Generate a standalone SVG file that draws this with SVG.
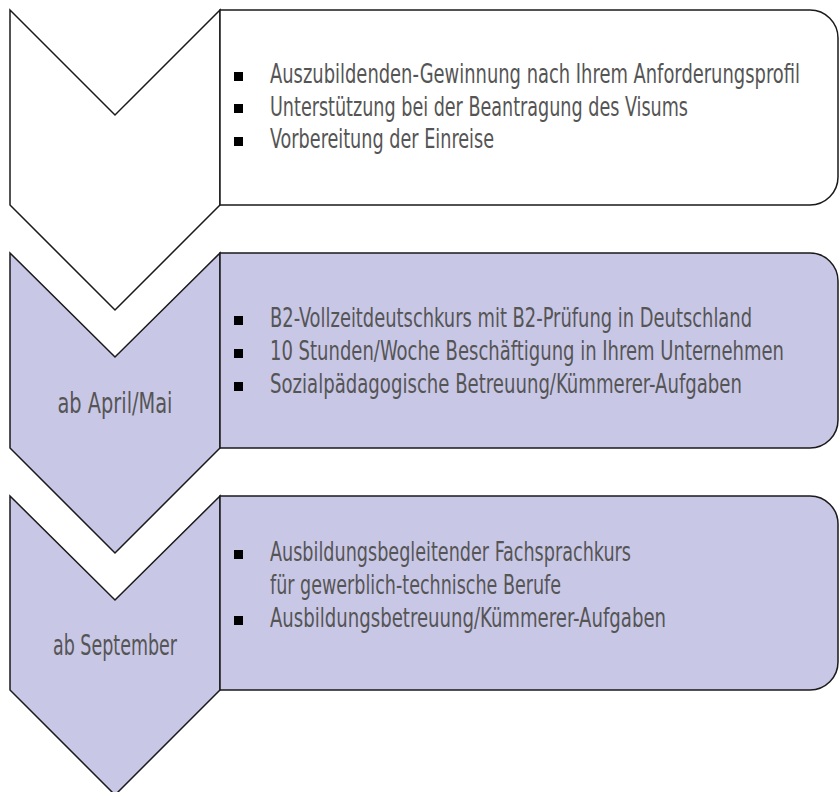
<svg xmlns="http://www.w3.org/2000/svg" width="840" height="792" viewBox="0 0 840 792">
<style>
.shape{stroke:#1a1a1a;stroke-width:1.5;stroke-linejoin:miter}
.white{fill:#ffffff}
.lav{fill:#c9c7e6}
.t{font-family:"DejaVu Sans Condensed","Liberation Sans",sans-serif;font-size:26px;fill:#555555}
.lbl{font-family:"DejaVu Sans Condensed","Liberation Sans",sans-serif;font-size:29px;fill:#555555}
.b{fill:#000000}
</style>
<rect width="840" height="792" fill="#ffffff"/>
<g id="step1">
  <path class="shape white" d="M10,10 L115,115 L220,10 L220,205 L115,310 L10,205 Z"/>
  <path class="shape white" d="M220,10 H810 A28,28 0 0 1 838,38 V177 A28,28 0 0 1 810,205 H220 Z"/>
  <rect class="b" x="234" y="72" width="9" height="9"/>
  <rect class="b" x="234" y="104" width="9" height="9"/>
  <rect class="b" x="234" y="137" width="9" height="9"/>
  <text class="t" transform="translate(270,83) scale(0.75,1)" textLength="706.7" lengthAdjust="spacingAndGlyphs">Auszubildenden-Gewinnung nach Ihrem Anforderungsprofil</text>
  <text class="t" transform="translate(270,115.5) scale(0.75,1)" textLength="557.3" lengthAdjust="spacingAndGlyphs">Unterstützung bei der Beantragung des Visums</text>
  <text class="t" transform="translate(270,148) scale(0.75,1)" textLength="298.7" lengthAdjust="spacingAndGlyphs">Vorbereitung der Einreise</text>
</g>
<g id="step2">
  <path class="shape lav" d="M10,253 L115,357 L220,253 L220,448 L115,553 L10,448 Z"/>
  <path class="shape lav" d="M220,253 H810 A28,28 0 0 1 838,281 V420 A28,28 0 0 1 810,448 H220 Z"/>
  <text class="lbl" x="115" y="413" text-anchor="middle" textLength="115" lengthAdjust="spacingAndGlyphs">ab April/Mai</text>
  <rect class="b" x="234" y="316" width="9" height="9"/>
  <rect class="b" x="234" y="349" width="9" height="9"/>
  <rect class="b" x="234" y="382" width="9" height="9"/>
  <text class="t" transform="translate(270,327) scale(0.75,1)" textLength="642.7" lengthAdjust="spacingAndGlyphs">B2-Vollzeitdeutschkurs mit B2-Prüfung in Deutschland</text>
  <text class="t" transform="translate(270,360) scale(0.75,1)" textLength="685.3" lengthAdjust="spacingAndGlyphs">10 Stunden/Woche Beschäftigung in Ihrem Unternehmen</text>
  <text class="t" transform="translate(270,393) scale(0.75,1)" textLength="629.3" lengthAdjust="spacingAndGlyphs">Sozialpädagogische Betreuung/Kümmerer-Aufgaben</text>
</g>
<g id="step3">
  <path class="shape lav" d="M10,496 L115,600 L220,496 L220,690 L115,795 L10,690 Z"/>
  <path class="shape lav" d="M220,496 H810 A28,28 0 0 1 838,524 V662 A28,28 0 0 1 810,690 H220 Z"/>
  <text class="lbl" x="115" y="655" text-anchor="middle" textLength="124" lengthAdjust="spacingAndGlyphs">ab September</text>
  <rect class="b" x="234" y="550" width="9" height="9"/>
  <rect class="b" x="234" y="616" width="9" height="9"/>
  <text class="t" transform="translate(270,561) scale(0.75,1)" textLength="481.3" lengthAdjust="spacingAndGlyphs">Ausbildungsbegleitender Fachsprachkurs</text>
  <text class="t" transform="translate(270,594) scale(0.75,1)" textLength="388" lengthAdjust="spacingAndGlyphs">für gewerblich-technische Berufe</text>
  <text class="t" transform="translate(270,627) scale(0.75,1)" textLength="528" lengthAdjust="spacingAndGlyphs">Ausbildungsbetreuung/Kümmerer-Aufgaben</text>
</g>
<g id="connectors"></g>
</svg>
